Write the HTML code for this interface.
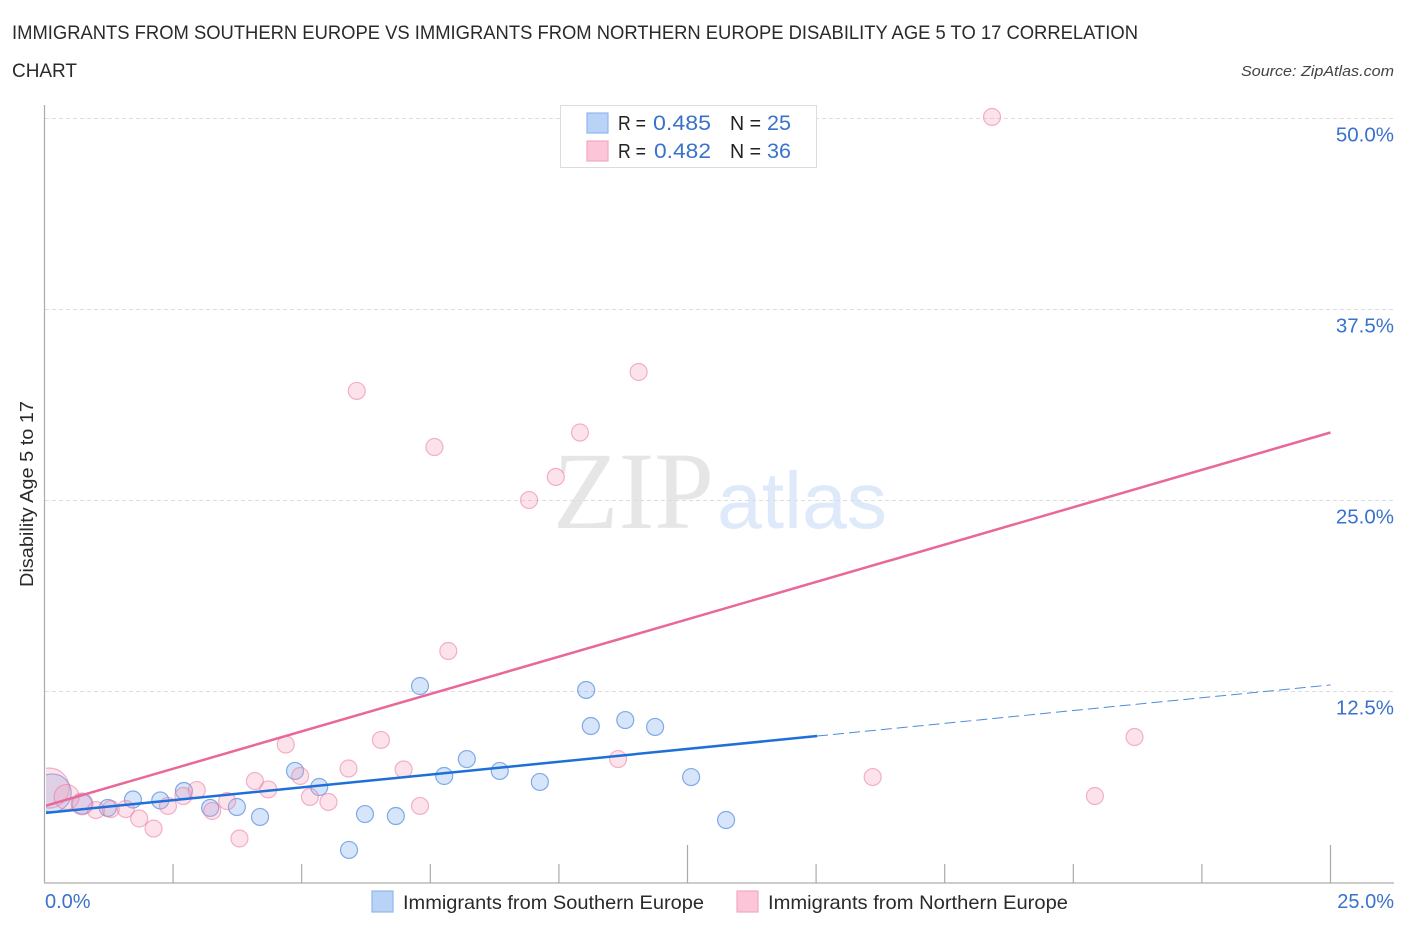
<!DOCTYPE html>
<html lang="en">
<head>
<meta charset="utf-8">
<title>Disability Age 5 to 17 Correlation Chart</title>
<style>
html,body{margin:0;padding:0;background:#fff;width:1406px;height:930px;overflow:hidden}
svg{display:block}
text{font-family:"Liberation Sans",sans-serif}
</style>
</head>
<body>
<svg id="chart" width="1406" height="930" viewBox="0 0 1406 930" xmlns="http://www.w3.org/2000/svg">
  <defs>
    <clipPath id="plot-clip"><rect x="46" y="90" width="1360" height="793"/></clipPath>
  </defs>
  <text x="12" y="39" font-size="19" fill="#2a2a2a" textLength="1126" lengthAdjust="spacingAndGlyphs">IMMIGRANTS FROM SOUTHERN EUROPE VS IMMIGRANTS FROM NORTHERN EUROPE DISABILITY AGE 5 TO 17 CORRELATION</text>
  <text x="12" y="77" font-size="19" fill="#2a2a2a" textLength="65" lengthAdjust="spacingAndGlyphs">CHART</text>
  <text x="1394" y="76" font-size="15" font-style="italic" fill="#444" text-anchor="end" textLength="153" lengthAdjust="spacingAndGlyphs">Source: ZipAtlas.com</text>

  <text x="553" y="528" font-size="110" fill="#e6e6e6" style="font-family:'Liberation Serif',serif" textLength="161" lengthAdjust="spacingAndGlyphs">ZIP</text>
  <text x="717" y="528" font-size="80" fill="#deeafa" textLength="170" lengthAdjust="spacingAndGlyphs">atlas</text>

  <g id="grid"></g>
  <g id="axes"></g>
  <g id="blue-points" clip-path="url(#plot-clip)"></g>
  <g id="pink-points" clip-path="url(#plot-clip)"></g>
  <g id="trends" clip-path="url(#plot-clip)"></g>
  <g id="labels"></g>

  <text transform="translate(33,494) rotate(-90)" font-size="18.5" fill="#2a2a2a" text-anchor="middle" textLength="186" lengthAdjust="spacingAndGlyphs">Disability Age 5 to 17</text>

  <g>
    <rect x="560.5" y="105.5" width="256" height="62" fill="#fff" stroke="#dcdcdc" stroke-width="1"/>
    <rect x="587" y="113" width="21" height="20" fill="#b9d3f7" stroke="#8fb8ee" stroke-width="1.2"/>
    <rect x="587" y="141" width="21" height="20" fill="#fcc5d8" stroke="#f0a9c2" stroke-width="1.2"/>
    <text x="618" y="130" font-size="20" fill="#222" textLength="28" lengthAdjust="spacingAndGlyphs">R =</text>
    <text x="653" y="130" font-size="21" fill="#3a72cc" textLength="58" lengthAdjust="spacingAndGlyphs">0.485</text>
    <text x="730" y="130" font-size="20" fill="#222" textLength="31" lengthAdjust="spacingAndGlyphs">N =</text>
    <text x="767" y="130" font-size="21" fill="#3a72cc" textLength="24" lengthAdjust="spacingAndGlyphs">25</text>
    <text x="618" y="158" font-size="20" fill="#222" textLength="28" lengthAdjust="spacingAndGlyphs">R =</text>
    <text x="654" y="158" font-size="21" fill="#3a72cc" textLength="57" lengthAdjust="spacingAndGlyphs">0.482</text>
    <text x="730" y="158" font-size="20" fill="#222" textLength="31" lengthAdjust="spacingAndGlyphs">N =</text>
    <text x="767" y="158" font-size="21" fill="#3a72cc" textLength="24" lengthAdjust="spacingAndGlyphs">36</text>
  </g>

  <g>
    <rect x="372" y="891" width="21" height="21" fill="#b9d3f7" stroke="#8fb8ee" stroke-width="1.2"/>
    <text x="403" y="909" font-size="19.5" fill="#2a2a2a" textLength="301" lengthAdjust="spacingAndGlyphs">Immigrants from Southern Europe</text>
    <rect x="737" y="891" width="21" height="21" fill="#fcc5d8" stroke="#f0a9c2" stroke-width="1.2"/>
    <text x="768" y="909" font-size="19.5" fill="#2a2a2a" textLength="300" lengthAdjust="spacingAndGlyphs">Immigrants from Northern Europe</text>
  </g>
</svg>
<script>
const yTicks = [12.5, 25, 37.5, 50];
const yTickLabels = ["12.5%", "25.0%", "37.5%", "50.0%"];
const xTicks = [2.5, 5, 7.5, 10, 12.5, 15, 17.5, 20, 22.5, 25];
const xMajorTicks = [12.5, 25];
const xEndLabels = ["0.0%", "25.0%"];
const blueX = [0.15,0.73,1.23,1.72,2.25,2.71,3.22,3.74,4.19,4.87,5.34,5.92,6.23,6.83,7.30,7.77,8.21,8.85,9.63,10.53,10.62,11.29,11.87,12.57,13.25];
const blueY = [5.86,5.14,4.88,5.43,5.37,5.99,4.88,4.94,4.29,7.30,6.25,2.13,4.48,4.35,12.86,6.97,8.08,7.30,6.58,12.60,10.24,10.63,10.18,6.90,4.09];
const pinkX = [0.09,0.43,0.73,1.00,1.29,1.58,1.84,2.12,2.40,2.70,2.96,3.26,3.55,3.79,4.09,4.35,4.69,4.97,5.16,5.52,5.91,6.54,6.98,7.30,7.58,7.85,6.07,9.42,9.94,10.41,11.55,11.15,16.10,18.42,20.42,21.19];
const pinkY = [6.18,5.60,5.14,4.74,4.81,4.81,4.19,3.53,5.01,5.66,6.05,4.68,5.33,2.88,6.64,6.09,9.03,6.97,5.60,5.27,7.46,9.33,7.40,5.01,28.50,15.15,32.17,25.03,26.54,29.45,33.41,8.08,6.90,50.10,5.66,9.52];
const blueWeight = [25,1.9,1,1,1,1,1,1,1,1,1,1,1,1,1,1,1,1,1,1,1,1,1,1,1];
const pinkWeight = [31,4.7,2.8,1,1,1,1,1,1,1,1,1,1,1,1,1,1,1,1,1,1,1,1,1,1,1,1,1,1,1,1,1,1,1,1,1];
const blueTrendStart = 4.55;
const blueTrendEnd = 12.93;
const blueSolidEndX = 15.02;
const pinkTrendStart = 5.0;
const pinkTrendEnd = 29.45;
const xMax = 25;

const NS = "http://www.w3.org/2000/svg";
function sx(v){ return 44.5 + v * (1286 / 25); }
function sy(v){ return 882.5 - v * (764 / 50); }
function radius(w){ return 8.5 * Math.pow(w, 0.25); }
function make(parent, tag, attrs){
  const el = document.createElementNS(NS, tag);
  for (const k in attrs) el.setAttribute(k, attrs[k]);
  parent.appendChild(el);
  return el;
}

const grid = document.getElementById("grid");
const axes = document.getElementById("axes");
const labels = document.getElementById("labels");
const trends = document.getElementById("trends");

yTicks.forEach(function(t, i){
  const line = make(grid, "line", {x1: 45, x2: 1393, y1: sy(t), y2: sy(t), stroke: "#dddddd", "stroke-width": 1, "stroke-dasharray": "4 3"});
  
  
  const label = make(labels, "text", {x: 1394, y: sy(t) + 23, "font-size": 20.5, fill: "#3a72cc", "text-anchor": "end"});
  label.textContent = yTickLabels[i];
  
  
});

const yAxis = make(axes, "line", {x1: 44.5, x2: 44.5, y1: 105, y2: 883, stroke: "#aaaaaa", "stroke-width": 1.2});


const xAxis = make(axes, "line", {x1: 44, x2: 1394, y1: 883, y2: 883, stroke: "#bbbbbb", "stroke-width": 1.5});


xTicks.forEach(function(t){
  const major = xMajorTicks.indexOf(t) >= 0;
  const tick = make(axes, "line", {x1: sx(t), x2: sx(t), y1: major ? 845 : 864, y2: 883, stroke: "#aaaaaa", "stroke-width": 1.2});
  
  
});

const xLabelLeft = make(labels, "text", {x: 45, y: 908, "font-size": 20, fill: "#3a72cc"});
xLabelLeft.textContent = xEndLabels[0];


const xLabelRight = make(labels, "text", {x: 1394, y: 908, "font-size": 20, fill: "#3a72cc", "text-anchor": "end"});
xLabelRight.textContent = xEndLabels[1];



const blueGroup = document.getElementById("blue-points");
blueX.forEach(function(x, i){
  const c = make(blueGroup, "circle", {cx: sx(x), cy: sy(blueY[i]), r: radius(blueWeight[i]), fill: "rgba(120,170,235,0.3)", stroke: "rgba(70,130,220,0.65)", "stroke-width": 1.2});
  
  
});
const pinkGroup = document.getElementById("pink-points");
pinkX.forEach(function(x, i){
  const c = make(pinkGroup, "circle", {cx: sx(x), cy: sy(pinkY[i]), r: radius(pinkWeight[i]), fill: "rgba(245,160,190,0.3)", stroke: "rgba(235,120,160,0.55)", "stroke-width": 1.2});
  
  
});

function trendY(a, b, x){ return a + (b - a) * x / xMax; }
const pinkLine = make(trends, "line", {x1: sx(0), y1: sy(pinkTrendStart), x2: sx(xMax), y2: sy(pinkTrendEnd), stroke: "#e8689a", "stroke-width": 2.5});


const blueSolid = make(trends, "line", {x1: sx(0), y1: sy(blueTrendStart), x2: sx(blueSolidEndX), y2: sy(trendY(blueTrendStart, blueTrendEnd, blueSolidEndX)), stroke: "#1f6fd8", "stroke-width": 2.5});


const blueDash = make(trends, "line", {x1: sx(blueSolidEndX), y1: sy(trendY(blueTrendStart, blueTrendEnd, blueSolidEndX)), x2: sx(xMax), y2: sy(blueTrendEnd), stroke: "#4f8bd8", "stroke-width": 1, "stroke-dasharray": "11 5"});


</script>
</body>
</html>
